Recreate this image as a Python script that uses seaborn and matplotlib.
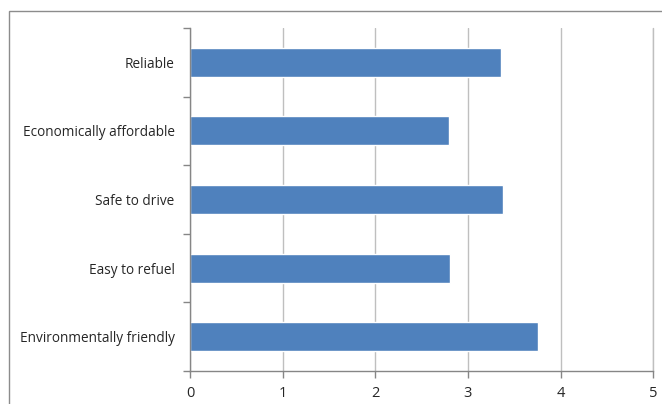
import matplotlib
matplotlib.use("Agg")
import matplotlib.pyplot as plt
from matplotlib.patches import Rectangle
import seaborn as sns
import pandas as pd

categories = ["Reliable", "Economically affordable", "Safe to drive",
              "Easy to refuel", "Environmentally friendly"]
scores = [3.36, 2.80, 3.38, 2.81, 3.76]
x_ticks = [0, 1, 2, 3, 4, 5]

sns.set_theme(style="white")
plt.rcParams["font.family"] = ["Open Sans", "DejaVu Sans"]

df = pd.DataFrame({"category": categories, "score": scores})

fig = plt.figure(figsize=(6.62, 4.04), dpi=100)
fig.patch.set_facecolor("white")
# chart-area frame
fig.patches.append(Rectangle((9 / 662, -0.05), 1.0, 1 - 11 / 404 + 0.05,
                             transform=fig.transFigure, fill=False,
                             edgecolor="#8c8c8c", linewidth=1.0))

ax = fig.add_axes([190 / 662, 1 - 371 / 404, (653.3 - 190) / 662, (371 - 28) / 404])
sns.barplot(data=df, y="category", x="score", orient="h", color="#4f81bd",
            saturation=1, width=0.42, ax=ax)

ax.set_xlim(0, 5)
ax.set_ylim(4.5, -0.5)
ax.set_xticks(x_ticks)
ax.set_xticklabels([str(t) for t in x_ticks], fontsize=10.5, color="#262626")
ax.set_xlabel("")
ax.set_ylabel("")
ax.tick_params(axis="y", which="major", left=False, length=0,
               labelsize=9.8, labelcolor="#262626", pad=11)
ax.set_yticks([-0.5, 0.5, 1.5, 2.5, 3.5, 4.5], minor=True)
ax.tick_params(axis="y", which="minor", left=True, length=5,
               color="#868686", width=1)
ax.tick_params(axis="x", bottom=True, length=5, color="#868686", width=1, pad=6)

ax.grid(axis="x", color="#bfbfbf", linewidth=1)
ax.axvline(5, color="#bfbfbf", linewidth=1, clip_on=False, zorder=0.5)
ax.set_axisbelow(True)
for side in ["top", "right"]:
    ax.spines[side].set_visible(False)
for side in ["left", "bottom"]:
    ax.spines[side].set_color("#868686")
    ax.spines[side].set_linewidth(1)

fig.savefig("out.png", dpi=100)
